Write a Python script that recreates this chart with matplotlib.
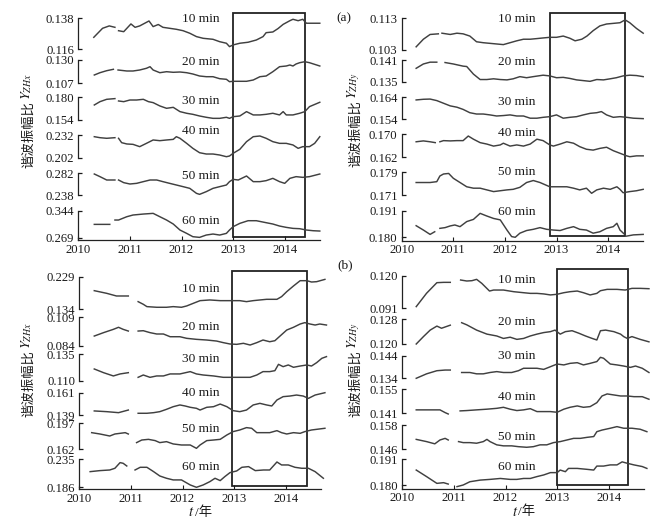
import numpy as np
import matplotlib
matplotlib.use('Agg')
import matplotlib.pyplot as plt
from matplotlib.patches import Rectangle
from matplotlib.transforms import blended_transform_factory

plt.rcParams['font.family'] = ['Liberation Serif', 'Noto Sans CJK SC']
plt.rcParams['mathtext.fontset'] = 'stix'

nan = np.nan

# ---------------- data: panel (a) left, Y_ZHx ----------------
tl_hi = [0.138, 0.130, 0.180, 0.232, 0.282, 0.344]
tl_lo = [0.116, 0.107, 0.154, 0.202, 0.238, 0.269]
tl10_t = [2010.30, 2010.47, 2010.60, 2010.71, nan, 2010.78, 2010.88, 2011.02, 2011.10, 2011.19, 2011.37, 2011.45, 2011.55, 2011.64, 2011.77, 2011.90, 2012.03, 2012.16, 2012.29, 2012.42, 2012.61, 2012.74, 2012.87, 2012.93, 2013.00, 2013.13, 2013.29, 2013.45, 2013.58, 2013.64, 2013.77, 2013.87, 2013.97, 2014.10, 2014.16, 2014.26, 2014.35, 2014.42, 2014.68]
tl10_v = [.1245, .1309, .1326, .1316, nan, .1292, .1285, .1340, .1316, .1326, .1361, .1321, .1336, .1316, .1309, .1302, .1292, .1274, .1250, .1238, .1231, .1214, .1203, .1179, .1191, .1203, .1210, .1226, .1250, .1278, .1283, .1307, .1337, .1363, .1373, .1363, .1373, .1345, .1345]
tl20_t = [2010.31, 2010.42, 2010.55, 2010.68, nan, 2010.77, 2010.94, 2011.06, 2011.19, 2011.32, 2011.39, 2011.45, 2011.58, 2011.71, 2011.84, 2011.97, 2012.10, 2012.22, 2012.35, 2012.48, 2012.61, 2012.74, 2012.87, 2012.93, 2013.00, 2013.13, 2013.26, 2013.39, 2013.52, 2013.64, 2013.77, 2013.90, 2014.03, 2014.10, 2014.16, 2014.22, 2014.29, 2014.39, 2014.48, 2014.68]
tl20_v = [.1150, .1173, .1193, .1207, nan, .1200, .1190, .1190, .1200, .1217, .1233, .1200, .1173, .1183, .1177, .1180, .1173, .1160, .1140, .1133, .1133, .1113, .1107, .1083, .1087, .1087, .1087, .1100, .1133, .1140, .1183, .1233, .1240, .1250, .1240, .1260, .1273, .1283, .1273, .1240]
tl30_t = [2010.31, 2010.42, 2010.55, 2010.71, nan, 2010.78, 2010.88, 2011.00, 2011.13, 2011.26, 2011.36, 2011.45, 2011.58, 2011.71, 2011.84, 2011.97, 2012.10, 2012.22, 2012.35, 2012.48, 2012.61, 2012.74, 2012.87, 2012.93, 2013.00, 2013.13, 2013.26, 2013.39, 2013.52, 2013.64, 2013.77, 2013.90, 2013.97, 2014.03, 2014.16, 2014.29, 2014.39, 2014.48, 2014.68]
tl30_v = [.1712, .1750, .1777, .1785, nan, .1758, .1750, .1769, .1769, .1777, .1750, .1739, .1701, .1674, .1685, .1636, .1617, .1605, .1586, .1571, .1559, .1559, .1571, .1559, .1578, .1586, .1636, .1598, .1598, .1605, .1617, .1598, .1636, .1598, .1598, .1617, .1636, .1693, .1743]
tl40_t = [2010.31, 2010.42, 2010.55, 2010.71, nan, 2010.78, 2010.84, 2010.94, 2011.06, 2011.19, 2011.32, 2011.45, 2011.58, 2011.71, 2011.84, 2011.90, 2011.97, 2012.10, 2012.22, 2012.35, 2012.48, 2012.61, 2012.74, 2012.87, 2012.93, 2013.00, 2013.13, 2013.26, 2013.39, 2013.52, 2013.64, 2013.77, 2013.90, 2014.03, 2014.16, 2014.26, 2014.35, 2014.48, 2014.58, 2014.68]
tl40_v = [.2298, .2285, .2277, .2285, nan, .2277, .2220, .2203, .2198, .2168, .2211, .2255, .2246, .2255, .2263, .2298, .2277, .2211, .2146, .2089, .2072, .2072, .2059, .2037, .2046, .2081, .2133, .2233, .2298, .2307, .2277, .2233, .2211, .2211, .2190, .2146, .2168, .2168, .2211, .2298]
tl50_t = [2010.31, 2010.42, 2010.55, 2010.71, nan, 2010.78, 2010.88, 2011.00, 2011.13, 2011.26, 2011.39, 2011.52, 2011.64, 2011.77, 2011.90, 2012.03, 2012.16, 2012.29, 2012.35, 2012.48, 2012.61, 2012.74, 2012.87, 2012.93, 2013.00, 2013.10, 2013.26, 2013.39, 2013.52, 2013.64, 2013.77, 2013.90, 2014.00, 2014.10, 2014.22, 2014.35, 2014.48, 2014.68]
tl50_v = [.2800, .2747, .2680, .2680, nan, .2680, .2627, .2600, .2613, .2647, .2680, .2680, .2647, .2613, .2580, .2547, .2513, .2413, .2393, .2447, .2513, .2547, .2580, .2647, .2693, .2680, .2760, .2647, .2647, .2667, .2713, .2647, .2613, .2713, .2747, .2733, .2747, .2800]
tl60_t = [2010.31, 2010.48, 2010.61, nan, 2010.71, 2010.78, 2010.94, 2011.06, 2011.26, 2011.45, 2011.58, 2011.71, 2011.84, 2011.97, 2012.10, 2012.22, 2012.35, 2012.48, 2012.61, 2012.74, 2012.87, 2012.93, 2013.00, 2013.13, 2013.29, 2013.45, 2013.64, 2013.77, 2013.90, 2014.03, 2014.16, 2014.29, 2014.42, 2014.55, 2014.68]
tl60_v = [.3060, .3060, .3060, nan, .3181, .3181, .3273, .3320, .3347, .3366, .3273, .3181, .3070, .2903, .2810, .2718, .2699, .2764, .2792, .2764, .2810, .2903, .2996, .3088, .3162, .3162, .3107, .3070, .3014, .2977, .2949, .2940, .2903, .2884, .2875]

# ---------------- data: panel (a) right, Y_ZHy ----------------
tr_hi = [0.113, 0.141, 0.164, 0.170, 0.179, 0.191]
tr_lo = [0.103, 0.135, 0.154, 0.162, 0.171, 0.180]
tr10_t = [2010.28, 2010.42, 2010.55, 2010.71, nan, 2010.78, 2010.94, 2011.07, 2011.19, 2011.32, 2011.45, 2011.58, 2011.71, 2011.84, 2011.97, 2012.10, 2012.23, 2012.36, 2012.49, 2012.62, 2012.74, 2012.87, 2013.00, 2013.13, 2013.26, 2013.36, 2013.49, 2013.59, 2013.71, 2013.84, 2013.97, 2014.10, 2014.23, 2014.33, 2014.42, 2014.55, 2014.68]
tr10_v = [.1040, .1064, .1079, .1081, nan, .1083, .1079, .1083, .1081, .1074, .1056, .1053, .1051, .1049, .1047, .1053, .1059, .1064, .1064, .1066, .1068, .1070, .1070, .1074, .1067, .1059, .1064, .1074, .1091, .1106, .1112, .1114, .1116, .1125, .1116, .1098, .1083]
tr20_t = [2010.28, 2010.42, 2010.55, 2010.68, nan, 2010.84, 2011.00, 2011.19, 2011.26, 2011.39, 2011.52, 2011.65, 2011.78, 2011.91, 2012.04, 2012.16, 2012.29, 2012.42, 2012.55, 2012.74, 2012.87, 2013.00, 2013.13, 2013.26, 2013.39, 2013.52, 2013.65, 2013.78, 2013.91, 2014.04, 2014.16, 2014.29, 2014.42, 2014.55, 2014.68]
tr20_v = [.1387, .1399, .1404, .1404, nan, .1403, .1399, .1393, .1392, .1371, .1356, .1356, .1358, .1356, .1355, .1358, .1364, .1361, .1364, .1368, .1366, .1361, .1362, .1359, .1355, .1353, .1351, .1356, .1355, .1358, .1361, .1366, .1368, .1367, .1364]
tr30_t = [2010.28, 2010.42, 2010.55, 2010.68, 2010.81, 2010.94, 2011.07, 2011.19, 2011.32, 2011.45, 2011.58, 2011.71, 2011.84, 2011.97, 2012.10, 2012.23, 2012.36, 2012.49, 2012.62, 2012.74, 2012.87, 2013.00, 2013.13, 2013.26, 2013.39, 2013.52, 2013.65, 2013.78, 2013.87, 2013.97, 2014.10, 2014.23, 2014.36, 2014.49, 2014.68]
tr30_v = [.1628, .1631, .1632, .1625, .1613, .1601, .1595, .1585, .1570, .1564, .1564, .1560, .1555, .1557, .1560, .1555, .1555, .1545, .1545, .1549, .1552, .1560, .1545, .1549, .1552, .1560, .1567, .1570, .1575, .1560, .1549, .1552, .1549, .1545, .1543]
tr40_t = [2010.28, 2010.42, 2010.55, 2010.65, nan, 2010.74, 2010.81, 2010.94, 2011.07, 2011.19, 2011.29, 2011.39, 2011.52, 2011.65, 2011.78, 2011.91, 2011.97, 2012.10, 2012.23, 2012.36, 2012.49, 2012.62, 2012.74, 2012.87, 2012.94, 2013.07, 2013.20, 2013.33, 2013.45, 2013.58, 2013.71, 2013.84, 2013.97, 2014.10, 2014.23, 2014.36, 2014.42, 2014.55, 2014.68]
tr40_v = [.1674, .1677, .1674, .1671, nan, .1674, .1678, .1677, .1678, .1678, .1694, .1683, .1671, .1666, .1659, .1663, .1669, .1659, .1663, .1659, .1666, .1683, .1678, .1663, .1659, .1666, .1674, .1669, .1657, .1648, .1645, .1651, .1655, .1643, .1634, .1625, .1622, .1625, .1625]
tr50_t = [2010.28, 2010.42, 2010.55, 2010.68, 2010.74, 2010.81, 2010.91, 2011.00, 2011.13, 2011.26, 2011.39, 2011.52, 2011.65, 2011.78, 2011.91, 2012.04, 2012.16, 2012.29, 2012.42, 2012.55, 2012.68, 2012.87, 2013.07, 2013.20, 2013.33, 2013.45, 2013.58, 2013.68, 2013.78, 2013.91, 2014.04, 2014.17, 2014.23, 2014.29, 2014.42, 2014.55, 2014.68]
tr50_v = [.1754, .1754, .1754, .1757, .1777, .1784, .1786, .1769, .1754, .1739, .1734, .1734, .1728, .1722, .1725, .1728, .1730, .1737, .1754, .1761, .1754, .1739, .1739, .1739, .1734, .1728, .1734, .1716, .1728, .1734, .1730, .1739, .1730, .1718, .1722, .1725, .1730]
tr60_t = [2010.28, 2010.42, 2010.55, 2010.64, nan, 2010.74, 2010.84, 2010.94, 2011.03, 2011.13, 2011.26, 2011.39, 2011.52, 2011.65, 2011.78, 2011.91, 2012.04, 2012.13, 2012.20, 2012.29, 2012.42, 2012.55, 2012.68, 2012.81, 2012.94, 2013.07, 2013.20, 2013.33, 2013.45, 2013.58, 2013.71, 2013.84, 2013.97, 2014.10, 2014.17, 2014.23, 2014.33, nan, 2014.36, 2014.49, 2014.68]
tr60_v = [.1848, .1830, .1812, .1823, nan, .1837, .1840, .1847, .1851, .1844, .1865, .1874, .1899, .1888, .1878, .1872, .1830, .1803, .1800, .1817, .1828, .1833, .1840, .1833, .1830, .1828, .1837, .1844, .1833, .1830, .1817, .1823, .1837, .1844, .1858, .1830, .1810, nan, .1805, .1810, .1812]

# ---------------- data: panel (b) left, Y_ZHx ----------------
bl_hi = [0.229, 0.109, 0.135, 0.161, 0.197, 0.235]
bl_lo = [0.134, 0.084, 0.110, 0.139, 0.162, 0.186]
bl10_t = [2010.29, 2010.53, 2010.72, 2010.95, nan, 2011.14, 2011.24, 2011.31, 2011.50, 2011.69, 2011.82, 2011.98, 2012.08, 2012.21, 2012.34, 2012.53, 2012.73, 2012.92, 2013.11, 2013.24, 2013.37, 2013.50, 2013.63, 2013.83, 2013.92, 2014.02, 2014.15, 2014.28, 2014.41, 2014.50, 2014.60, 2014.76]
bl10_v = [.1883, .1806, .1728, .1728, nan, .1563, .1486, .1418, .1399, .1399, .1418, .1399, .1437, .1515, .1592, .1612, .1592, .1592, .1592, .1563, .1592, .1612, .1631, .1631, .1709, .1854, .2019, .2174, .2174, .2135, .2145, .2212]
bl20_t = [2010.29, 2010.47, 2010.66, 2010.76, 2010.85, 2010.95, nan, 2011.14, 2011.24, 2011.37, 2011.50, 2011.63, 2011.76, 2011.95, 2012.08, 2012.27, 2012.47, 2012.66, 2012.79, 2012.92, 2013.05, 2013.18, 2013.31, 2013.44, 2013.56, 2013.69, 2013.79, 2013.89, 2014.02, 2014.15, 2014.28, 2014.37, 2014.47, 2014.57, 2014.66, 2014.79]
bl20_v = [.0925, .0955, .0984, .1002, .0984, .0969, nan, .0969, .0972, .0955, .0943, .0943, .0919, .0919, .0905, .0896, .0890, .0881, .0867, .0855, .0852, .0861, .0846, .0867, .0890, .0875, .0884, .0925, .0978, .1002, .1031, .1043, .1031, .1022, .1031, .1022]
bl30_t = [2010.29, 2010.47, 2010.66, 2010.79, 2010.95, nan, 2011.14, 2011.24, 2011.37, 2011.50, 2011.63, 2011.76, 2011.95, 2012.15, 2012.27, 2012.40, 2012.60, 2012.79, 2012.92, 2013.11, 2013.31, 2013.44, 2013.56, 2013.69, 2013.79, 2013.86, 2013.95, 2014.05, 2014.15, 2014.28, 2014.41, 2014.50, 2014.60, 2014.70, 2014.79]
bl30_v = [.1211, .1176, .1145, .1164, .1176, nan, .1132, .1154, .1132, .1145, .1145, .1164, .1164, .1186, .1164, .1154, .1145, .1132, .1132, .1132, .1132, .1154, .1186, .1186, .1195, .1255, .1233, .1249, .1227, .1239, .1249, .1239, .1271, .1312, .1328]
bl40_t = [2010.29, 2010.53, 2010.76, 2010.95, nan, 2011.14, 2011.31, 2011.44, 2011.56, 2011.69, 2011.82, 2011.95, 2012.05, 2012.15, 2012.27, 2012.34, 2012.47, 2012.60, 2012.73, 2012.86, 2012.98, 2013.11, 2013.24, 2013.37, 2013.50, 2013.63, 2013.73, 2013.83, 2013.95, 2014.08, 2014.21, 2014.34, 2014.44, 2014.57, 2014.76]
bl40_v = [.1430, .1423, .1413, .1439, nan, .1407, .1407, .1413, .1423, .1446, .1472, .1489, .1479, .1466, .1456, .1439, .1466, .1472, .1498, .1472, .1433, .1423, .1439, .1489, .1505, .1489, .1479, .1538, .1571, .1577, .1587, .1577, .1554, .1587, .1610]
bl50_t = [2010.24, 2010.40, 2010.59, 2010.69, 2010.89, 2010.95, nan, 2011.11, 2011.21, 2011.34, 2011.47, 2011.56, 2011.69, 2011.82, 2011.98, 2012.15, 2012.27, 2012.34, 2012.47, 2012.60, 2012.73, 2012.86, 2012.98, 2013.11, 2013.24, 2013.34, 2013.44, 2013.56, 2013.69, 2013.83, 2013.92, 2014.02, 2014.15, 2014.28, 2014.37, 2014.50, 2014.76]
bl50_v = [.1844, .1826, .1799, .1826, .1844, .1826, nan, .1710, .1745, .1754, .1737, .1710, .1723, .1692, .1678, .1678, .1633, .1678, .1737, .1745, .1754, .1813, .1858, .1880, .1912, .1903, .1844, .1844, .1844, .1871, .1844, .1826, .1844, .1835, .1858, .1880, .1903]
bl60_t = [2010.21, 2010.40, 2010.59, 2010.69, 2010.79, 2010.85, 2010.92, nan, 2011.08, 2011.18, 2011.31, 2011.44, 2011.56, 2011.69, 2011.82, 2011.98, 2012.15, 2012.27, 2012.40, 2012.53, 2012.63, 2012.73, 2012.82, 2012.92, 2013.05, 2013.15, 2013.28, 2013.41, 2013.57, 2013.69, 2013.76, 2013.83, 2013.92, 2014.05, 2014.18, 2014.31, 2014.44, 2014.57, 2014.73]
bl60_v = [.2134, .2152, .2163, .2193, .2292, .2280, .2233, nan, .2163, .2210, .2210, .2134, .2058, .2018, .1989, .1989, .1901, .1860, .1901, .1959, .2018, .1977, .2047, .2117, .2146, .2210, .2222, .2152, .2163, .2163, .2233, .2303, .2251, .2251, .2210, .2193, .2193, .2134, .2018]

# ---------------- data: panel (b) right, Y_ZHy ----------------
br_hi = [0.120, 0.128, 0.144, 0.155, 0.158, 0.191]
br_lo = [0.091, 0.120, 0.134, 0.141, 0.146, 0.180]
br10_t = [2010.27, 2010.47, 2010.67, 2010.80, 2010.93, nan, 2011.13, 2011.25, 2011.35, 2011.44, 2011.54, 2011.69, 2011.77, 2011.96, 2012.16, 2012.35, 2012.48, 2012.61, 2012.74, 2012.87, 2013.00, 2013.13, 2013.25, 2013.39, 2013.51, 2013.64, 2013.77, 2013.84, 2013.97, 2014.16, 2014.32, 2014.45, 2014.61, 2014.78]
br10_v = [.0925, .1045, .1140, .1143, .1143, nan, .1164, .1155, .1158, .1170, .1134, .1065, .1074, .1074, .1059, .1050, .1044, .1044, .1039, .1030, .1036, .1050, .1059, .1065, .1050, .1030, .1044, .1068, .1080, .1080, .1074, .1089, .1089, .1086]
br20_t = [2010.27, 2010.41, 2010.54, 2010.67, 2010.76, 2010.93, nan, 2011.15, 2011.25, 2011.44, 2011.64, 2011.83, 2011.96, 2012.09, 2012.22, 2012.35, 2012.48, 2012.61, 2012.74, 2012.87, 2012.96, 2013.06, 2013.16, 2013.29, 2013.42, 2013.55, 2013.68, 2013.77, 2013.84, 2013.94, 2014.10, 2014.23, 2014.29, 2014.36, 2014.45, 2014.61, 2014.78]
br20_v = [.1200, .1224, .1245, .1258, .1251, .1261, nan, .1269, .1262, .1245, .1232, .1226, .1218, .1222, .1215, .1218, .1226, .1232, .1237, .1240, .1245, .1232, .1240, .1243, .1235, .1226, .1218, .1213, .1243, .1245, .1240, .1232, .1224, .1218, .1224, .1215, .1207]
br30_t = [2010.27, 2010.47, 2010.67, 2010.83, 2010.93, nan, 2011.15, 2011.31, 2011.44, 2011.57, 2011.70, 2011.83, 2011.96, 2012.12, 2012.25, 2012.35, 2012.48, 2012.61, 2012.74, 2012.87, 2013.00, 2013.13, 2013.25, 2013.39, 2013.51, 2013.64, 2013.77, 2013.84, 2013.90, 2014.03, 2014.16, 2014.29, 2014.42, 2014.52, 2014.65, 2014.78]
br30_v = [.1340, .1360, .1374, .1377, .1377, nan, .1366, .1366, .1360, .1360, .1366, .1370, .1366, .1366, .1374, .1385, .1385, .1385, .1380, .1392, .1404, .1400, .1407, .1410, .1400, .1407, .1415, .1434, .1430, .1404, .1400, .1395, .1389, .1395, .1385, .1366]
br40_t = [2010.27, 2010.47, 2010.73, 2010.83, 2010.89, nan, 2011.12, 2011.25, 2011.44, 2011.64, 2011.83, 2011.96, 2012.09, 2012.22, 2012.35, 2012.48, 2012.61, 2012.74, 2012.87, 2013.00, 2013.13, 2013.25, 2013.39, 2013.51, 2013.64, 2013.77, 2013.87, 2013.97, 2014.10, 2014.23, 2014.36, 2014.49, 2014.65, 2014.78]
br40_v = [.1430, .1430, .1430, .1414, .1406, nan, .1424, .1426, .1430, .1434, .1439, .1445, .1434, .1426, .1430, .1437, .1420, .1420, .1420, .1416, .1434, .1445, .1453, .1445, .1449, .1472, .1511, .1523, .1517, .1511, .1511, .1507, .1507, .1492]
br50_t = [2010.27, 2010.47, 2010.63, 2010.73, 2010.83, 2010.89, nan, 2011.09, 2011.18, 2011.31, 2011.44, 2011.57, 2011.64, 2011.70, 2011.83, 2011.96, 2012.12, 2012.25, 2012.41, 2012.54, 2012.67, 2012.80, 2012.93, 2013.06, 2013.19, 2013.32, 2013.45, 2013.58, 2013.71, 2013.77, 2013.87, 2014.03, 2014.16, 2014.29, 2014.45, 2014.61, 2014.74]
br50_v = [.1509, .1498, .1487, .1506, .1514, .1506, nan, .1498, .1493, .1493, .1490, .1498, .1509, .1498, .1482, .1477, .1477, .1473, .1470, .1473, .1482, .1482, .1493, .1498, .1506, .1514, .1514, .1519, .1523, .1547, .1555, .1564, .1572, .1564, .1564, .1559, .1547]
br60_t = [2010.27, 2010.47, 2010.67, 2010.80, 2010.89, nan, 2011.06, 2011.18, 2011.31, 2011.51, 2011.70, 2011.90, 2012.09, 2012.22, 2012.35, 2012.48, 2012.61, 2012.74, 2012.87, 2013.00, 2013.06, 2013.16, 2013.22, 2013.39, 2013.58, 2013.71, 2013.77, 2013.90, 2014.03, 2014.16, 2014.26, 2014.36, 2014.49, 2014.65, 2014.74]
br60_v = [.1864, .1836, .1807, .1810, .1804, nan, .1793, .1800, .1814, .1821, .1824, .1828, .1824, .1824, .1828, .1828, .1836, .1843, .1853, .1853, .1864, .1857, .1871, .1871, .1867, .1864, .1881, .1881, .1886, .1886, .1899, .1893, .1886, .1879, .1871]

minutes = ['10 min', '20 min', '30 min', '40 min', '50 min', '60 min']
year_ticks = [2010, 2011, 2012, 2013, 2014]
x_range = (2010.0, 2014.68)
ylabel_cn = '谐波振幅比'
ylabel_sym = ['$Y_{ZHx}$', '$Y_{ZHy}$']

# ---------------- layout (pixel positions in a 662x524 canvas) ----------------
W, H = 662, 524
fig = plt.figure(figsize=(6.62, 5.24), dpi=100)
FS = 9.1
TXT = '#1a1a1a'
LINE = '#404040'
CN_FONT = ['Noto Sans CJK SC']


def fx(px):
    return px / W


def fy(py):
    return 1 - py / H


panels = [
    dict(hi=tl_hi, lo=tl_lo,
         curves=[(tl10_t, tl10_v), (tl20_t, tl20_v), (tl30_t, tl30_v), (tl40_t, tl40_v), (tl50_t, tl50_v), (tl60_t, tl60_v)],
         sx=78.3, pairs=[(18.3, 49.3), (60, 83), (97.3, 120), (135, 158), (173, 195), (210.7, 237.7)],
         xaxis=240.3, rect=(2013.0, 2014.39, 13.3, 237.3), lab_x=182,
         lab_y=[19, 62, 101, 131, 176, 221], ylab=(28, 168), sym=0, xlab=None),
    dict(hi=tr_hi, lo=tr_lo,
         curves=[(tr10_t, tr10_v), (tr20_t, tr20_v), (tr30_t, tr30_v), (tr40_t, tr40_v), (tr50_t, tr50_v), (tr60_t, tr60_v)],
         sx=401.7, pairs=[(18.3, 50), (60, 81.7), (97.3, 119.3), (134.3, 157.3), (172.3, 195), (210.7, 237.3)],
         xaxis=240.7, rect=(2012.87, 2014.33, 13.3, 236.3), lab_x=498.3,
         lab_y=[19, 62, 102, 133, 172, 212], ylab=(355, 167), sym=1, xlab=None),
    dict(hi=bl_hi, lo=bl_lo,
         curves=[(bl10_t, bl10_v), (bl20_t, bl20_v), (bl30_t, bl30_v), (bl40_t, bl40_v), (bl50_t, bl50_v), (bl60_t, bl60_v)],
         sx=79.3, pairs=[(276.7, 309.3), (317.3, 345.7), (354.3, 380.7), (392.7, 415), (423.3, 449.3), (459.3, 487.3)],
         xaxis=489.3, rect=(2012.96, 2014.42, 270.7, 485.7), lab_x=181.7,
         lab_y=[289.3, 327.3, 359.3, 393.3, 429.3, 467.3], ylab=(28, 417), sym=0, xlab=(194.5, 512.7)),
    dict(hi=br_hi, lo=br_lo,
         curves=[(br10_t, br10_v), (br20_t, br20_v), (br30_t, br30_v), (br40_t, br40_v), (br50_t, br50_v), (br60_t, br60_v)],
         sx=402.3, pairs=[(276, 308.3), (319.3, 344), (356, 378.3), (389.3, 413.3), (425, 449.3), (459.3, 485)],
         xaxis=488.7, rect=(2013.0, 2014.38, 269, 485), lab_x=498.3,
         lab_y=[280, 322.3, 356, 396.7, 436.7, 467.3], ylab=(355, 417), sym=1, xlab=(518, 512)),
]

AXW = 241.5
CN_PT = 9.6
CN_PX = CN_PT * 100 / 72.0

for p in panels:
    sx = p['sx']
    top = p['rect'][2]
    # frame axes: x axis, box
    fr = fig.add_axes([fx(sx), fy(p['xaxis']), AXW / W, (p['xaxis'] - top) / H])
    fr.patch.set_visible(False)
    fr.set_xlim(*x_range)
    fr.set_ylim(0, 1)
    for s in ['top', 'right']:
        fr.spines[s].set_visible(False)
    fr.spines['bottom'].set_linewidth(0.9)
    fr.spines['bottom'].set_color('#222222')
    fr.spines['left'].set_linewidth(0.9)
    fr.spines['left'].set_color('#222222')
    fr.spines['left'].set_bounds(0, (p['xaxis'] - p['pairs'][-1][1]) / (p['xaxis'] - top))
    fr.set_yticks([])
    fr.set_xticks(year_ticks)
    fr.set_xticklabels([str(y) for y in year_ticks])
    fr.tick_params(axis='x', direction='in', length=3, width=0.8, pad=2.5, labelsize=FS, colors=TXT)
    t0, t1, rtop, rbot = p['rect']
    yb = (p['xaxis'] - rbot) / (p['xaxis'] - rtop)
    tr = blended_transform_factory(fr.transData, fr.transAxes)
    fr.add_patch(Rectangle((t0, yb), t1 - t0, 1 - yb, transform=tr, fill=False,
                           lw=1.3, ec='#222222', clip_on=False))

    for i, ((t, v), (yhi, ylo)) in enumerate(zip(p['curves'], p['pairs'])):
        hi, lo = p['hi'][i], p['lo'][i]
        ax = fig.add_axes([fx(sx), fy(ylo), AXW / W, (ylo - yhi) / H])
        ax.patch.set_visible(False)
        ax.set_xlim(*x_range)
        ax.set_ylim(lo, hi)
        ax.plot(t, v, color=LINE, lw=1.05, clip_on=False)
        for s in ['top', 'right', 'bottom']:
            ax.spines[s].set_visible(False)
        ax.spines['left'].set_linewidth(0.9)
        ax.spines['left'].set_color('#222222')
        ax.set_xticks([])
        ax.set_yticks([lo, hi])
        ax.set_yticklabels([f'{lo:.3f}', f'{hi:.3f}'])
        ax.tick_params(axis='y', direction='in', length=3, width=0.9, pad=3, labelsize=FS, colors=TXT)
        fig.text(fx(p['lab_x']), fy(p['lab_y'][i]), minutes[i], ha='left', va='center',
                 fontsize=9.6, color=TXT)

    # y label: Chinese part + italic symbol above it (rotated)
    lx, lb = p['ylab']
    fig.text(fx(lx), fy(lb), ylabel_cn, rotation=90, ha='center', va='bottom',
             fontsize=CN_PT, color=TXT, family=CN_FONT)
    fig.text(fx(lx - 1), fy(lb - 5 * CN_PX - 1), ylabel_sym[p['sym']], rotation=90,
             ha='center', va='bottom', fontsize=10, color=TXT)
    if p['xlab'] is not None:
        xx, yy = p['xlab']
        fig.text(fx(xx), fy(yy), '$t$', ha='right', va='center', fontsize=10.5, color=TXT)
        fig.text(fx(xx), fy(yy), '/年', ha='left', va='center', fontsize=9.6, color=TXT,
                 family=['Liberation Serif', 'Noto Sans CJK SC'])

fig.text(fx(344), fy(18), '(a)', ha='center', va='center', fontsize=9.6, color=TXT)
fig.text(fx(345), fy(265), '(b)', ha='center', va='center', fontsize=9.6, color=TXT)

fig.savefig('out.png', dpi=100)
